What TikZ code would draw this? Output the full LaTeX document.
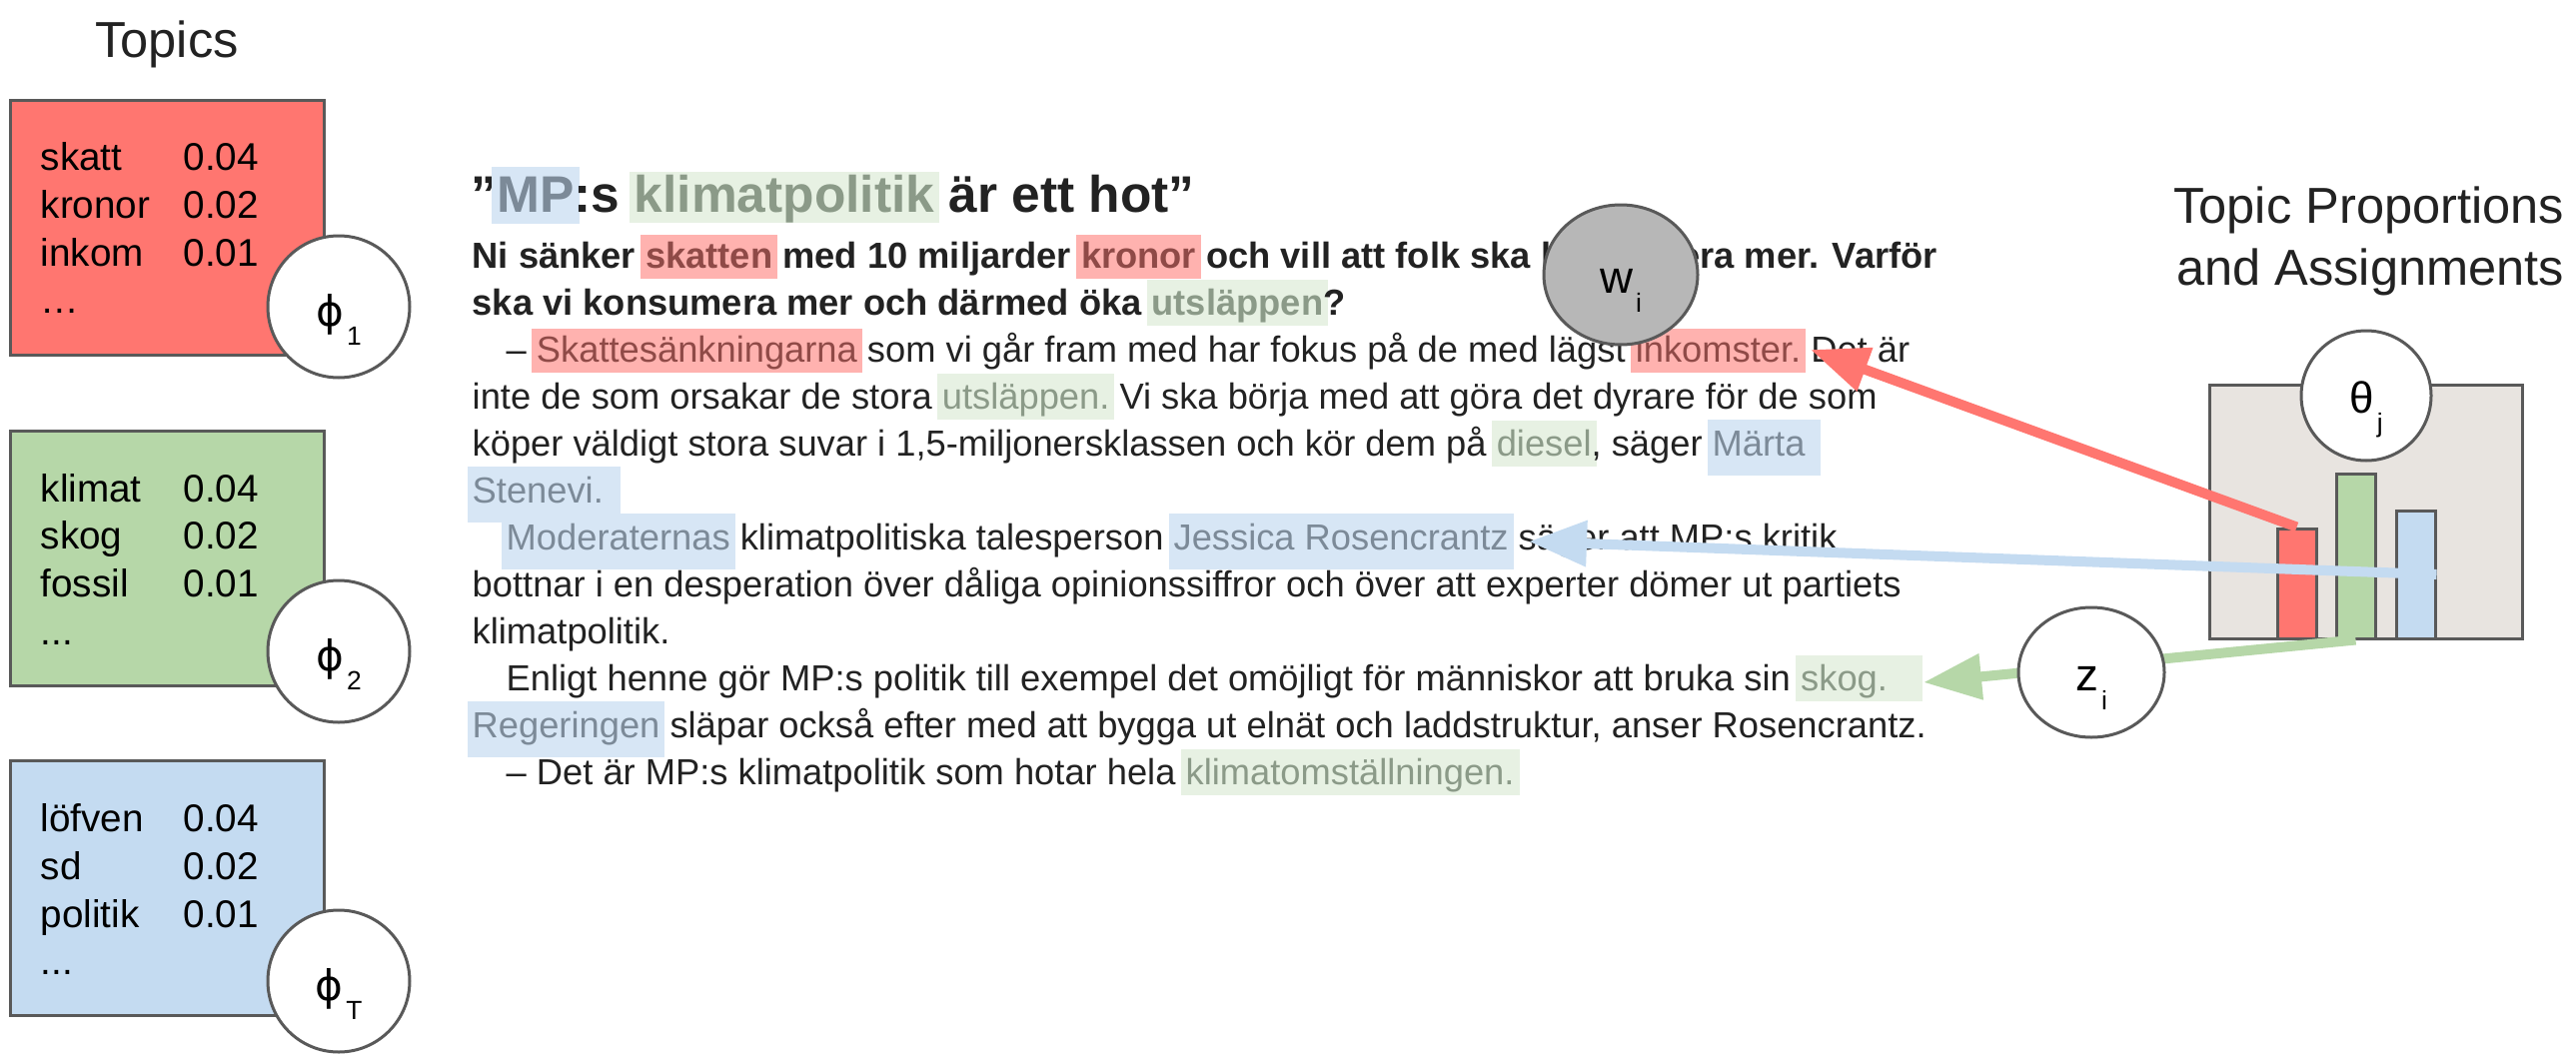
\documentclass[tikz,border=0pt]{standalone}
\usepackage{fontspec}
\setmainfont{Liberation Sans}
\newfontfamily\symfont{DejaVu Sans}
\usetikzlibrary{arrows.meta,shapes.geometric}
\definecolor{bordc}{HTML}{595959}
\definecolor{redF}{HTML}{FF7670}
\definecolor{greenF}{HTML}{B6D7A8}
\definecolor{blueF}{HTML}{C4DBF1}
\definecolor{grayF}{HTML}{E8E4E0}
\definecolor{wF}{HTML}{B7B7B7}
\definecolor{txtc}{HTML}{222222}
\definecolor{hlredF}{HTML}{FFB2AF}
\definecolor{hlredT}{HTML}{8F4A47}
\definecolor{hlgreenF}{HTML}{E7F1E3}
\definecolor{hlgreenT}{HTML}{8B9A88}
\definecolor{hlblueF}{HTML}{D7E6F5}
\definecolor{hlblueT}{HTML}{7C8A98}
\newcommand\hlgen[5]{\kern-0.5mm\relax\begingroup\setlength{\fboxsep}{0pt}\colorbox{#1}{\rule[-#4]{0pt}{\dimexpr #3+#4\relax}\kern0.5mm\relax\textcolor{#2}{#5}\kern0.5mm\relax}\endgroup\kern-0.5mm\relax}
\newcommand\hlR[1]{\hlgen{hlredF}{hlredT}{3.3mm}{1.1mm}{#1}}
\newcommand\hlG[1]{\hlgen{hlgreenF}{hlgreenT}{3.5mm}{1.1mm}{#1}}
\newcommand\hlB[1]{\hlgen{hlblueF}{hlblueT}{3.6mm}{2.0mm}{#1}}
\newcommand\lowsub[1]{\kern0.3mm\relax\raisebox{-1.9mm}{\fontsize{7.5pt}{8pt}\selectfont #1}}
\newcommand\phisym{{\symfont\fontsize{12pt}{14pt}\selectfont ϕ}}
\tikzset{
  bodytxt/.style={anchor=base west, inner sep=0pt, text=txtc, font=\fontsize{10.33pt}{12pt}\selectfont},
  boldtxt/.style={bodytxt, font=\fontsize{10.33pt}{12pt}\selectfont\bfseries},
  titletxt/.style={anchor=base west, inner sep=0pt, text=txtc, font=\fontsize{14.65pt}{17pt}\selectfont\bfseries},
  headtxt/.style={inner sep=0pt, text=txtc, font=\fontsize{14.4pt}{17pt}\selectfont},
  topictxt/.style={anchor=base west, inner sep=0pt, text=black, font=\fontsize{11pt}{13pt}\selectfont},
  topicbox/.style={rectangle, draw=bordc, line width=0.3mm, minimum width=31.4mm, minimum height=25.5mm, inner sep=0pt},
  barbox/.style={rectangle, draw=bordc, line width=0.3mm, minimum width=3.9mm, inner sep=0pt},
  varc/.style={circle, draw=bordc, line width=0.3mm, fill=white, minimum size=14.2mm, inner sep=0pt, text height=3.8mm, text depth=0pt, font=\fontsize{12.5pt}{14pt}\selectfont},
  vare/.style={ellipse, draw=bordc, line width=0.3mm, inner sep=0pt, text height=3.6mm, text depth=0pt, font=\fontsize{13pt}{15pt}\selectfont},
  arr/.style={line width=1mm, -{Triangle[length=5.8mm,width=4.4mm]}},
}
\begin{document}
\begin{tikzpicture}[x=0.1mm,y=-0.1mm]
\useasboundingbox (0,0) rectangle (2578,1064);
% Topics column
\node[headtxt, anchor=base] (topics) at (167,57) {Topics};
\node[topicbox, fill=redF] (tred) at (167,227.5) {};
\node[topicbox, fill=greenF] (tgreen) at (167,558.5) {};
\node[topicbox, fill=blueF] (tblue) at (167,889) {};
\node[topictxt] (r1) at (40,170) {skatt};  \node[topictxt] (r1n) at (183,170) {0.04};
\node[topictxt] (r2) at (40,218) {kronor}; \node[topictxt] (r2n) at (183,218) {0.02};
\node[topictxt] (r3) at (40,266) {inkom};  \node[topictxt] (r3n) at (183,266) {0.01};
\node[topictxt] (r4) at (40,313) {…};
\node[topictxt] (g1) at (40,502) {klimat}; \node[topictxt] (g1n) at (183,502) {0.04};
\node[topictxt] (g2) at (40,549) {skog};   \node[topictxt] (g2n) at (183,549) {0.02};
\node[topictxt] (g3) at (40,597) {fossil}; \node[topictxt] (g3n) at (183,597) {0.01};
\node[topictxt] (g4) at (40,645) {...};
\node[topictxt] (b1) at (40,832) {löfven};  \node[topictxt] (b1n) at (183,832) {0.04};
\node[topictxt] (b2) at (40,880) {sd};      \node[topictxt] (b2n) at (183,880) {0.02};
\node[topictxt] (b3) at (40,928) {politik}; \node[topictxt] (b3n) at (183,928) {0.01};
\node[topictxt] (b4) at (40,975) {...};
\node[varc] (phi1) at (339,307) {\phisym\lowsub{1}};
\node[varc] (phi2) at (339,652) {\phisym\lowsub{2}};
\node[varc] (phiT) at (339,982) {\phisym\lowsub{T}};
% Article text
\node[titletxt] (title) at (471,212) {”\hlgen{hlblueF}{hlblueT}{4.5mm}{1.2mm}{MP}:s \hlgen{hlgreenF}{hlgreenT}{4.0mm}{0.8mm}{klimatpolitik} är ett hot”};
\node[boldtxt] (l1) at (472,268) {Ni sänker \hlR{skatten} med 10 miljarder \hlR{kronor} och vill att folk ska konsumera mer. Varför};
\node[boldtxt] (l2) at (472,315) {ska vi konsumera mer och därmed öka \hlG{utsläppen}?};
\node[bodytxt] (l3) at (506,362) {– \hlR{Skattesänkningarna} som vi går fram med har fokus på de med lägst \hlR{inkomster.} Det är};
\node[bodytxt] (l4) at (472,409) {inte de som orsakar de stora \hlG{utsläppen.} Vi ska börja med att göra det dyrare för de som};
\node[bodytxt] (l5) at (472,456) {köper väldigt stora suvar i 1,5-miljonersklassen och kör dem på \hlG{diesel}, säger \hlB{Märta\kern1mm}};
\node[bodytxt] (l6) at (472,503) {\hlB{Stenevi.\kern1.2mm}};
\node[bodytxt] (l7) at (506,550) {\hlB{Moderaternas} klimatpolitiska talesperson \hlB{Jessica Rosencrantz} säger att MP:s kritik};
\node[bodytxt] (l8) at (472,597) {bottnar i en desperation över dåliga opinionssiffror och över att experter dömer ut partiets};
\node[bodytxt] (l9) at (472,644) {klimatpolitik.};
\node[bodytxt] (l10) at (506,691) {Enligt henne gör MP:s politik till exempel det omöjligt för människor att bruka sin \hlG{skog.\kern3mm}};
\node[bodytxt] (l11) at (472,738) {\hlB{Regeringen} släpar också efter med att bygga ut elnät och laddstruktur, anser Rosencrantz.};
\node[bodytxt] (l12) at (506,785) {– Det är MP:s klimatpolitik som hotar hela \hlG{klimatomställningen.}};
\coordinate (inkEnd) at (1812,350);
\coordinate (jrEnd) at (1530,542);
\coordinate (skogEnd) at (1925,683);
% Right panel
\node[headtxt, anchor=base east] (tp1) at (2567,223) {Topic Proportions};
\node[headtxt, anchor=base east] (tp2) at (2567,285) {and Assignments};
\node[rectangle, draw=bordc, line width=0.3mm, fill=grayF, minimum width=31.3mm, minimum height=25.4mm, inner sep=0pt] (gbox) at (2367.5,512) {};
\node[barbox, fill=redF, minimum height=11mm] (rbar) at (2298.5,584) {};
\node[barbox, fill=greenF, minimum height=16.5mm] (gbar) at (2357.5,556.5) {};
\node[barbox, fill=blueF, minimum height=12.8mm] (bbar) at (2417.5,575) {};
\node[varc, minimum size=13mm, text height=3.4mm] (theta) at (2368,396) {θ\lowsub{j}};
% Arrows
\draw[arr, draw=redF, fill=redF] (rbar.north) -- (inkEnd);
\draw[arr, draw=blueF, fill=blueF] (bbar.east) -- (jrEnd);
\draw[arr, draw=greenF, fill=greenF] (gbar.south) -- (skogEnd);
% Word and assignment variables
\node[vare, fill=wF, minimum width=15.4mm, minimum height=14mm] (wi) at (1622,275) {w\lowsub{i}};
\node[vare, fill=white, minimum width=14.6mm, minimum height=13mm] (zi) at (2093,673) {z\lowsub{i}};
\end{tikzpicture}
\end{document}
